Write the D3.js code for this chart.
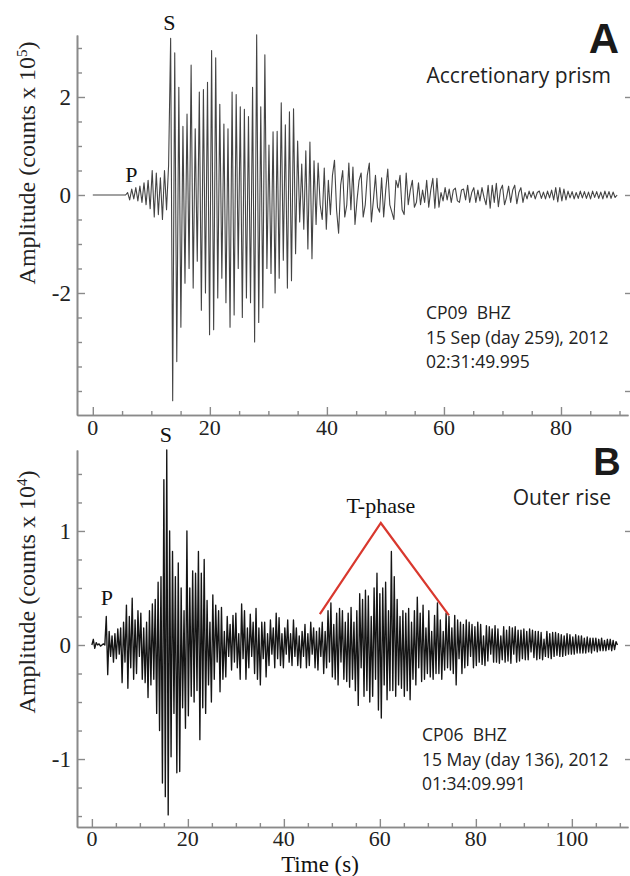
<!DOCTYPE html>
<html><head><meta charset="utf-8">
<script src="https://cdn.jsdelivr.net/npm/d3@7/dist/d3.min.js"></script>
<style>body{margin:0;background:#fff;} svg{display:block;} .pre{white-space:pre;}</style>
</head><body><svg id="c" width="630" height="876"></svg>
<script>
// ---------- DATA ----------
// Panel A: CP09 BHZ, amplitude in counts x 10^5, sampled every dtA seconds from t = 0
const dtA = 0.35;
const ampA = [
 0,0,0,0,0,0,0,0,0,0,
 0,0,0,0,0,0,0,0.05,-0.1,0.12,
 -0.08,0.15,-0.12,0.18,-0.15,0.25,-0.2,0.3,-0.28,0.5,
 -0.45,0.45,-0.4,0.35,-0.5,0.5,-0.3,0.6,3.2,-4.2,
 2.9,-3.4,2.2,-2.7,1.4,-1.8,1.65,-1.5,2.65,-1.9,
 1.35,-1.35,2.1,-2.35,2.15,-2.0,2.3,-2.85,2.95,-2.75,
 2.8,-2.1,1.85,-1.7,1.45,-2.2,1.35,-2.7,2.1,-2.45,
 2.05,-1.5,1.8,-2.5,1.75,-2.1,1.6,-2.2,2.2,-3.0,
 3.27,-2.6,1.8,-2.3,2.86,-1.5,1.02,-1.6,1.29,-2.0,
 1.3,-1.7,1.88,-1.33,1.43,-1.9,1.7,-1.75,1.76,-1.2,
 1.1,-0.55,0.63,-0.7,0.9,-1.1,1.08,-1.3,0.7,-0.6,
 0.65,-0.2,-0.5,0.55,-0.7,0.3,-0.4,0.4,0.71,-0.3,
 -0.78,0.2,0.5,-0.45,-0.2,0.65,-0.3,0.57,-0.6,-0.1,
 0.3,0.45,-0.45,-0.2,0.4,0.65,-0.55,-0.1,0.4,-0.25,
 -0.35,0.35,-0.45,0.1,0.53,-0.2,-0.35,-0.5,0.3,0.15,
 0.4,-0.3,-0.4,0.45,-0.2,0.1,0.3,-0.25,-0.15,0.25,
 -0.2,0.1,-0.15,0.3,-0.25,0.1,0.34,-0.27,0.34,-0.25,
 0.05,-0.12,0.15,-0.1,0.12,-0.15,0.1,0.14,-0.12,-0.15,
 0.1,0.12,-0.1,0.2,-0.15,0.05,0.15,-0.15,0.1,-0.12,
 0.15,-0.05,-0.2,0.2,-0.27,0.2,-0.15,0.24,-0.24,0.1,
 0.2,-0.2,-0.05,0.18,-0.15,0.1,0.2,-0.18,0.05,0.15,
 -0.15,0.05,-0.08,0.08,-0.05,0.07,-0.08,0.05,0.08,-0.07,
 0.06,-0.08,0.08,-0.06,0.1,-0.1,0.15,-0.14,0.15,-0.12,
 0.12,-0.1,0.08,-0.06,0.07,-0.08,0.05,-0.07,0.08,-0.06,
 0.07,-0.07,0.06,-0.08,0.08,-0.05,0.07,-0.07,0.06,-0.08,
 0.08,-0.06,0.07,-0.07,0.06,-0.05,0
];
// Panel B: CP06 BHZ, amplitude in counts x 10^4, sampled every dtB seconds from t = 0
const dtB = 0.3;
const ampB = [
 0,0.05,-0.03,0.02,0,0.01,-0.01,0,0.01,0,
 0.25,-0.26,0.12,-0.1,0.08,-0.15,0.1,-0.12,0.14,-0.08,
 0.15,-0.33,0.2,-0.15,0.35,-0.38,0.25,-0.2,0.41,-0.3,
 0.22,-0.25,0.3,-0.1,0.28,-0.3,0.15,-0.33,0.2,-0.46,
 0.3,-0.35,0.36,-0.3,0.4,-0.6,0.55,-0.75,0.6,-1.21,
 1.45,-1.33,1.71,-1.49,1.0,-0.98,0.82,-0.6,0.6,-1.12,
 0.72,-1.11,0.5,-0.55,0.3,-0.73,1.0,-0.62,0.5,-0.45,
 0.65,-0.5,0.63,-0.4,0.82,-0.83,0.63,-0.55,0.75,-0.6,
 0.39,-0.35,0.2,-0.5,0.44,-0.3,0.35,-0.15,0.3,-0.41,
 0.33,-0.3,0.12,-0.28,0.25,-0.1,0.18,-0.22,0.26,-0.15,
 0.28,-0.2,0.1,-0.3,0.36,-0.12,0.3,-0.3,0.15,-0.2,
 0.27,-0.1,0.2,-0.25,0.32,-0.3,0.15,-0.35,0.2,-0.12,
 0.2,-0.28,0.1,-0.18,0.22,-0.08,0.15,-0.2,0.28,-0.12,
 0.24,-0.18,0.1,-0.2,0.15,-0.08,0.22,-0.15,0.1,-0.18,
 0.22,-0.1,0.15,-0.18,0.08,-0.2,0.12,-0.1,0.18,-0.2,
 0.1,-0.18,0.2,-0.08,0.15,-0.2,0.12,-0.22,0.15,-0.1,
 0.2,-0.25,0.12,-0.2,0.3,-0.15,0.37,-0.28,0.18,-0.3,
 0.28,-0.35,0.32,-0.15,0.3,-0.3,0.2,-0.32,0.28,-0.37,
 0.33,-0.3,0.2,-0.4,0.3,-0.53,0.45,-0.2,0.4,-0.45,
 0.48,-0.4,0.43,-0.5,0.25,-0.45,0.5,-0.3,0.63,-0.57,
 0.45,-0.64,0.5,-0.35,0.55,-0.48,0.3,-0.4,0.82,-0.4,
 0.6,-0.45,0.4,-0.35,0.25,-0.38,0.3,-0.45,0.28,-0.4,
 0.32,-0.48,0.2,-0.3,0.3,-0.35,0.42,-0.2,0.28,-0.32,
 0.35,-0.3,0.15,-0.25,0.3,-0.28,0.12,-0.3,0.26,-0.25,
 0.37,-0.25,0.22,-0.3,0.12,-0.22,0.28,-0.2,0.25,-0.22,
 0.15,-0.25,0.26,-0.35,0.22,-0.12,0.2,-0.25,0.18,-0.2,
 0.22,-0.18,0.2,-0.1,0.18,-0.2,0.16,-0.18,0.2,-0.15,
 0.18,-0.17,0.08,-0.18,0.17,-0.14,0.16,-0.08,0.14,-0.15,
 0.17,-0.15,0.14,-0.16,0.08,-0.13,0.16,-0.15,0.13,-0.14,
 0.16,-0.16,0.15,-0.08,0.16,-0.15,0.13,-0.14,0.13,-0.12,
 0.14,-0.13,0.12,-0.13,0.14,-0.06,0.13,-0.11,0.12,-0.13,
 0.12,-0.12,0.11,-0.13,0.05,-0.1,0.12,-0.11,0.1,-0.12,
 0.11,-0.1,0.11,-0.09,0.1,-0.1,0.09,-0.1,0.08,-0.09,
 0.1,-0.08,0.09,-0.08,0.07,-0.08,0.09,-0.07,0.08,-0.07,
 0.08,-0.07,0.06,-0.07,0.07,-0.06,0.06,-0.07,0.06,-0.05,
 0.06,-0.06,0.05,-0.05,0.06,-0.05,0.04,-0.05,0.05,-0.04,
 0.05,-0.05,0.04,-0.04,0.03,0
];
// Tick labels
const xTicksA = [0, 20, 40, 60, 80];
const yTicksA = [-2, 0, 2];
const yRightTicksA = [-4, -2, 0, 2];
const xTicksB = [0, 20, 40, 60, 80, 100];
const yTicksB = [-1, 0, 1];
const yRightTicksB = [-1, 0, 1];
// T-phase envelope marker (time s, amplitude x 10^4)
const tPhaseTime = [47.5, 60.2, 74.4];
const tPhaseAmp = [0.27, 1.07, 0.26];
// Phase picks
const picksA = [{name: "P", t: 6.6, v: 0.27}, {name: "S", t: 13.1, v: 3.37}];
const picksB = [{name: "P", t: 3.1, v: 0.35}, {name: "S", t: 15.4, v: 1.78}];

// ---------- LAYOUT ----------
const svg = d3.select("#c");
const serif = "'Liberation Serif','DejaVu Serif',serif";
const sans = "'Open Sans','Noto Sans',sans-serif";
const axisColor = "#8a8a8a";

const panels = [
  {amp: ampA, dt: dtA, xDom: [-2.7, 91.45], yDom: [-4.49, 3.265], top: 35, bottom: 415,
   xTicks: xTicksA, xMinorStep: 5, yTicks: yTicksA, yMinorStep: 0.5, yRight: yRightTicksA,
   stroke: "#444", sw: 1.1, xLabY: 435, picks: picksA, expo: "5", labCy: 163,
   letter: "A", letterX: 604, letterY: 53, letterSize: 42, title: "Accretionary prism", titleY: 83,
   info: ["CP09  BHZ", "15 Sep (day 259), 2012", "02:31:49.995"], infoX: 426, infoY: 319},
  {amp: ampB, dt: dtB, xDom: [-3.1, 111.7], yDom: [-1.596, 1.71], top: 450, bottom: 827,
   xTicks: xTicksB, xMinorStep: 5, yTicks: yTicksB, yMinorStep: 0.25, yRight: yRightTicksB,
   stroke: "#151515", sw: 1.35, xLabY: 846, picks: picksB, expo: "4", labCy: 592,
   letter: "B", letterX: 607, letterY: 475, letterSize: 38, title: "Outer rise", titleY: 505,
   info: ["CP06  BHZ", "15 May (day 136), 2012", "01:34:09.991"], infoX: 422, infoY: 741}
];
const left = 77, right = 628;

panels.forEach((p, pi) => {
  const x = d3.scaleLinear().domain(p.xDom).range([left, right]);
  const y = d3.scaleLinear().domain(p.yDom).range([p.bottom, p.top]);
  const g = svg.append("g");

  const yMinor = d3.range(Math.ceil(p.yDom[0] / p.yMinorStep) * p.yMinorStep, p.yDom[1], p.yMinorStep)
    .filter(v => !p.yTicks.some(t => Math.abs(t - v) < 1e-6));
  const xMinor = d3.range(0, p.xDom[1], p.xMinorStep)
    .filter(v => !p.xTicks.includes(v));

  const styleAxis = sel => {
    sel.select(".domain").attr("stroke", axisColor).attr("stroke-width", 1.6);
    sel.selectAll(".tick line").attr("stroke", axisColor).attr("stroke-width", 1.4);
    sel.selectAll(".tick text").remove();
  };
  g.append("g").attr("transform", `translate(${left},0)`)
    .call(d3.axisLeft(y).tickValues(yMinor).tickSize(-5).tickSizeOuter(0)).call(styleAxis);
  g.append("g").attr("transform", `translate(${left},0)`)
    .call(d3.axisLeft(y).tickValues(p.yTicks).tickSize(-8).tickSizeOuter(0)).call(styleAxis);
  g.append("g").attr("transform", `translate(0,${p.bottom})`)
    .call(d3.axisBottom(x).tickValues(xMinor).tickSize(-4).tickSizeOuter(0)).call(styleAxis);
  g.append("g").attr("transform", `translate(0,${p.bottom})`)
    .call(d3.axisBottom(x).tickValues(p.xTicks).tickSize(-8).tickSizeOuter(0)).call(styleAxis);
  const rAx = g.append("g").attr("transform", `translate(${right + 2},0)`)
    .call(d3.axisRight(y).tickValues(p.yRight).tickSize(-5).tickSizeOuter(0));
  rAx.select(".domain").remove();
  rAx.selectAll(".tick line").attr("stroke", axisColor).attr("stroke-width", 1.4);
  rAx.selectAll(".tick text").remove();

  g.selectAll(".ylab").data(p.yTicks).join("text")
    .attr("x", left - 6).attr("y", d => y(d)).attr("dy", "0.35em")
    .attr("text-anchor", "end").attr("font-family", serif).attr("font-size", 23).attr("fill", "#222")
    .text(d => d < 0 ? "-" + Math.abs(d) : d);
  g.selectAll(".xlab").data(p.xTicks).join("text")
    .attr("x", d => x(d)).attr("y", p.xLabY)
    .attr("text-anchor", "middle").attr("font-family", serif).attr("font-size", 22).attr("fill", "#222")
    .text(d => d);

  const yt = g.append("text").attr("transform", `translate(35,${p.labCy}) rotate(-90)`)
    .attr("text-anchor", "middle").attr("font-family", serif).attr("font-size", 24).attr("fill", "#222");
  yt.append("tspan").text("Amplitude (counts x 10");
  yt.append("tspan").attr("font-size", 15).attr("baseline-shift", "55%").text(p.expo);
  yt.append("tspan").text(")");

  const line = d3.line().x((d, i) => x(i * p.dt)).y(d => y(d));
  g.append("path").datum(p.amp).attr("d", line)
    .attr("fill", "none").attr("stroke", p.stroke).attr("stroke-width", p.sw).attr("stroke-linejoin", "round");

  g.selectAll(".pick").data(p.picks).join("text")
    .attr("x", d => x(d.t)).attr("y", d => y(d.v))
    .attr("text-anchor", "middle").attr("font-family", serif).attr("font-size", 22).attr("fill", "#111")
    .text(d => d.name);

  g.append("text").attr("x", p.letterX).attr("y", p.letterY).attr("text-anchor", "middle")
    .attr("font-family", "'Liberation Sans',Arial,sans-serif").attr("font-weight", "bold")
    .attr("font-size", p.letterSize).attr("fill", "#1a1a1a").text(p.letter);
  g.append("text").attr("x", 611).attr("y", p.titleY).attr("text-anchor", "end")
    .attr("font-family", sans).attr("font-size", 21).attr("fill", "#222").text(p.title);
  g.selectAll(".info").data(p.info).join("text").attr("class", "pre")
    .attr("x", p.infoX).attr("y", (d, i) => p.infoY + i * 24.5)
    .attr("font-family", sans).attr("font-size", 17.5).attr("fill", "#222").text(d => d);

  if (pi === 1) {
    const tl = d3.line().x((d, i) => x(tPhaseTime[i])).y(d => y(d));
    g.append("path").datum(tPhaseAmp).attr("d", tl).attr("fill", "none")
      .attr("stroke", "#d9382e").attr("stroke-width", 2.2);
    g.append("text").attr("x", x(tPhaseTime[1])).attr("y", 513).attr("text-anchor", "middle")
      .attr("font-family", serif).attr("font-size", 22).attr("fill", "#111").text("T-phase");
    g.append("text").attr("x", 320).attr("y", 872).attr("text-anchor", "middle")
      .attr("font-family", serif).attr("font-size", 23).attr("fill", "#111").text("Time (s)");
  }
});
</script></body></html>
